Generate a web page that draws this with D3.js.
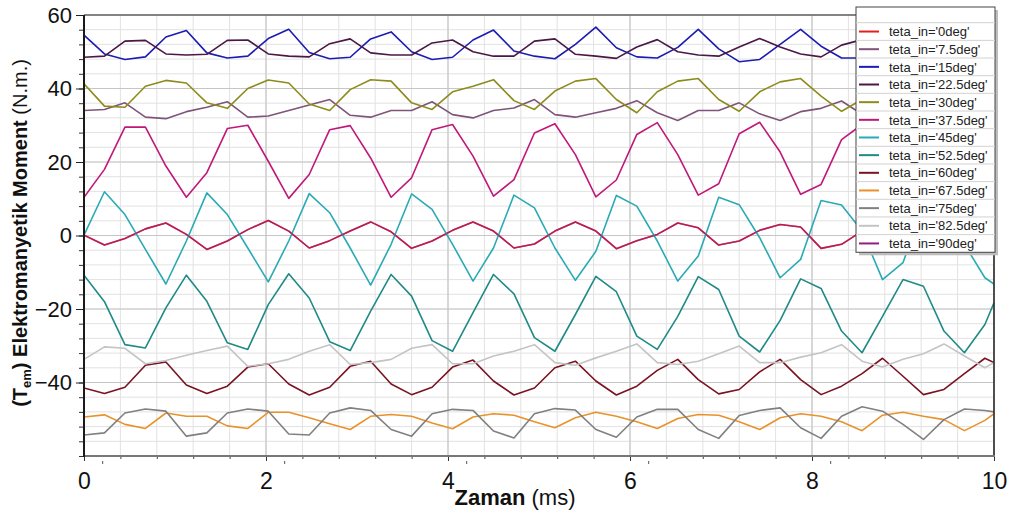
<!DOCTYPE html>
<html>
<head>
<meta charset="utf-8">
<script src="https://cdn.jsdelivr.net/npm/d3@7/dist/d3.min.js"></script>
<style>
  body { margin: 0; background: #fff; }
  svg { display: block; font-family: "Liberation Sans", Arial, sans-serif; }
</style>
</head>
<body>
<script>
//sample times (ms)
var times = [0, 0.225, 0.45, 0.675, 0.9, 1.125, 1.35, 1.575, 1.8, 2.025, 2.25, 2.475, 2.7, 2.925, 3.15, 3.375,
  3.6, 3.825, 4.05, 4.275, 4.5, 4.725, 4.95, 5.175, 5.4, 5.625, 5.85, 6.075, 6.3, 6.525, 6.75, 6.975,
  7.2, 7.425, 7.65, 7.875, 8.1, 8.325, 8.55, 8.775, 9.0, 9.225, 9.45, 9.675, 9.9, 10.0];

//torque values (N.m.) for each input angle
var teta0 = [0.1, -2.6, -0.8, 1.8, 3.4, 0.3, -3.8, -1.5, 1.6, 4.1, 1.2, -3.4, -1.4, 1.2, 3.7, 1.0,
  -3.5, -1.5, 1.4, 3.7, 1.2, -3.4, -2.3, 1.2, 3.7, 1.2, -3.6, -1.4, 0.3, 3.4, 2.1, -2.6,
  -1.5, 1.4, 3.0, 2.3, -3.5, -2.4, 1.2, 3.5, 1.5, -3.5, -2.0, 1.0, 3.5, 2.0];
var teta7_5 = [34.0, 34.3, 36.1, 32.2, 31.8, 33.7, 34.9, 36.4, 32.2, 32.5, 34.0, 35.5, 37.0, 32.7, 32.2, 34.0,
  34.0, 36.4, 32.9, 32.0, 34.0, 34.7, 37.0, 32.9, 32.2, 33.4, 34.6, 36.7, 33.4, 31.3, 34.0, 34.0,
  36.1, 33.1, 31.3, 33.7, 34.6, 36.6, 33.0, 31.5, 34.0, 34.5, 36.5, 33.0, 31.5, 32.0];
var teta15 = [54.5, 49.4, 47.9, 48.6, 54.0, 55.8, 49.7, 48.3, 48.8, 53.6, 56.1, 49.8, 48.1, 48.5, 53.5, 55.4,
  50.0, 47.9, 48.5, 53.2, 55.9, 50.2, 48.8, 48.1, 52.0, 56.7, 51.1, 48.6, 48.3, 51.2, 56.1, 50.8,
  47.3, 47.9, 52.0, 56.1, 51.5, 48.3, 48.3, 51.0, 56.0, 50.5, 48.0, 48.5, 53.0, 55.0];
var teta22_5 = [48.5, 48.8, 52.9, 53.1, 49.4, 49.1, 49.3, 53.1, 53.2, 49.4, 48.8, 48.6, 52.2, 53.5, 49.7, 49.1,
  49.1, 52.4, 53.2, 50.0, 48.8, 48.8, 52.9, 53.5, 49.3, 48.8, 48.2, 51.3, 53.3, 50.0, 49.1, 48.8,
  51.3, 53.6, 51.3, 49.4, 48.6, 51.8, 53.3, 49.5, 49.0, 49.0, 52.0, 53.5, 50.0, 49.5];
var teta30 = [41.3, 35.2, 34.9, 40.6, 42.2, 41.5, 36.1, 34.6, 40.0, 42.3, 41.5, 35.8, 34.0, 39.7, 42.4, 42.0,
  36.1, 34.3, 39.1, 40.6, 42.4, 36.7, 34.3, 39.3, 42.0, 42.7, 37.0, 33.4, 39.1, 42.0, 42.7, 37.0,
  33.8, 39.1, 41.8, 42.7, 37.9, 33.8, 37.0, 42.0, 42.5, 37.0, 34.0, 39.0, 42.0, 42.5];
var teta37_5 = [10.4, 18.0, 29.5, 29.5, 18.9, 10.4, 17.1, 29.1, 30.0, 20.2, 10.1, 16.6, 28.8, 29.9, 21.1, 10.4,
  15.7, 28.8, 30.2, 21.6, 10.7, 15.2, 27.9, 30.4, 22.0, 10.5, 15.1, 27.5, 30.7, 22.0, 11.0, 14.1,
  27.7, 30.8, 22.7, 11.2, 13.9, 26.1, 30.2, 22.0, 11.0, 14.0, 26.0, 30.5, 22.0, 17.0];
var teta45 = [0.1, 11.9, 5.7, -3.8, -13.2, -1.5, 11.6, 5.7, -3.4, -12.6, -1.5, 11.4, 6.2, -3.4, -13.5, -2.4,
  11.3, 7.1, -2.4, -12.4, -3.4, 11.0, 7.5, -3.4, -12.2, -4.3, 10.9, 8.0, -1.5, -12.4, -5.6, 10.4,
  8.4, -0.6, -11.5, -6.5, 9.5, 8.3, 1.2, -12.0, -7.4, 8.4, 8.0, -2.4, -11.5, -13.2];
var teta52_5 = [-10.8, -18.0, -29.7, -30.6, -19.7, -10.8, -17.9, -29.2, -31.0, -18.8, -10.4, -17.0, -28.9, -31.3, -20.6, -10.6,
  -16.5, -28.6, -31.5, -21.0, -10.6, -15.9, -27.8, -31.5, -21.5, -11.1, -15.3, -27.4, -31.0, -22.0, -11.2, -14.7,
  -27.4, -31.7, -23.1, -11.8, -14.4, -26.0, -31.9, -22.0, -12.0, -13.8, -26.0, -31.9, -24.2, -18.3];
var teta60 = [-41.5, -43.0, -41.3, -35.3, -34.4, -40.7, -43.0, -41.0, -35.8, -34.9, -40.4, -43.4, -41.3, -35.6, -34.2, -40.4,
  -43.3, -41.3, -35.8, -33.9, -39.6, -43.4, -41.5, -36.0, -34.2, -39.6, -43.4, -41.0, -36.7, -33.7, -39.2, -43.1,
  -41.9, -37.1, -33.7, -39.2, -43.3, -41.0, -37.6, -33.4, -38.3, -43.3, -41.9, -37.6, -33.4, -34.6];
var teta67_5 = [-49.4, -48.8, -51.4, -52.5, -48.3, -49.2, -49.2, -51.8, -52.5, -48.1, -48.1, -49.6, -51.2, -52.8, -49.2, -48.7,
  -49.2, -51.0, -52.6, -49.4, -48.5, -48.9, -50.7, -52.3, -49.6, -48.1, -49.2, -50.7, -52.5, -49.8, -48.7, -48.9,
  -50.7, -52.8, -49.6, -48.5, -49.2, -50.7, -53.1, -48.9, -48.1, -49.2, -50.1, -53.1, -50.3, -48.5];
var teta75 = [-54.3, -53.7, -48.3, -47.2, -47.8, -54.6, -53.7, -48.3, -47.2, -47.8, -54.0, -54.3, -48.3, -46.9, -47.6, -52.8,
  -54.6, -48.5, -47.3, -47.6, -53.2, -55.1, -48.5, -47.1, -47.5, -52.8, -54.9, -49.4, -47.3, -47.3, -52.8, -55.2,
  -49.0, -47.6, -46.9, -52.3, -55.2, -49.2, -46.6, -47.8, -51.4, -55.5, -50.1, -47.2, -47.6, -48.0];
var teta82_5 = [-33.7, -30.3, -30.7, -34.9, -34.0, -32.6, -31.3, -30.1, -35.6, -34.9, -33.7, -31.5, -29.7, -35.1, -34.6, -33.7,
  -30.7, -29.7, -34.9, -34.9, -32.8, -31.5, -29.7, -34.6, -35.3, -33.3, -31.5, -29.5, -34.6, -35.1, -34.2, -32.2,
  -30.1, -34.6, -34.6, -33.1, -31.9, -29.7, -34.2, -35.8, -33.7, -32.2, -29.5, -32.8, -36.0, -34.6];
var teta90 = [0.1, -2.6, -0.8, 1.8, 3.4, 0.3, -3.8, -1.5, 1.6, 4.1, 1.2, -3.4, -1.4, 1.2, 3.7, 1.0,
  -3.5, -1.5, 1.4, 3.7, 1.2, -3.4, -2.3, 1.2, 3.7, 1.2, -3.6, -1.4, 0.3, 3.4, 2.1, -2.6,
  -1.5, 1.4, 3.0, 2.3, -3.5, -2.4, 1.2, 3.5, 1.5, -3.5, -2.0, 1.0, 3.5, 2.0];

var seriesNames = ["teta_in='0deg'", "teta_in='7.5deg'", "teta_in='15deg'", "teta_in='22.5deg'",
  "teta_in='30deg'", "teta_in='37.5deg'", "teta_in='45deg'", "teta_in='52.5deg'", "teta_in='60deg'",
  "teta_in='67.5deg'", "teta_in='75deg'", "teta_in='82.5deg'", "teta_in='90deg'"];
var seriesValues = [teta0, teta7_5, teta15, teta22_5, teta30, teta37_5, teta45, teta52_5, teta60,
  teta67_5, teta75, teta82_5, teta90];
var seriesColors = ["#e41e1e", "#7f5478", "#1c1cb0", "#4b1746", "#8c8c1c", "#c0187a", "#2aaab4",
  "#1f8a86", "#7a1222", "#e8922a", "#808080", "#c4c4c4", "#941c82"];

var xMajor = [0, 2, 4, 6, 8, 10];
var yMajor = [-40, -20, 0, 20, 40, 60];

window.onload = initialize();

function initialize(){
  setChart();
};

function setChart(){

  //frame dimensions
  var width = 1010;
  var height = 513;
  var left = 84, right = 994, top = 15, bottom = 456;

  var svg = d3.select("body")
              .append("svg")
              .attr("width", width)
              .attr("height", height);

  var x = d3.scaleLinear().domain([0, 10]).range([left, right]);
  var y = d3.scaleLinear().domain([-60, 60]).range([bottom, top]);

  //grid lines, minor every 0.4 ms / 4 N.m., major every 2 ms / 20 N.m.
  var xMinor = d3.range(0, 10.001, 0.4);
  var yMinor = d3.range(-60, 60.001, 4);

  var grid = svg.append("g").attr("class", "grid");
  grid.selectAll(".vminor")
      .data(xMinor)
    .enter().append("line")
      .attr("x1", function(d) { return x(d) }).attr("x2", function(d) { return x(d) })
      .attr("y1", top).attr("y2", bottom)
      .style("stroke", "#e2e2e2").style("stroke-width", 1);
  grid.selectAll(".hminor")
      .data(yMinor)
    .enter().append("line")
      .attr("x1", left).attr("x2", right)
      .attr("y1", function(d) { return y(d) }).attr("y2", function(d) { return y(d) })
      .style("stroke", "#e2e2e2").style("stroke-width", 1);
  grid.selectAll(".vmajor")
      .data(xMajor)
    .enter().append("line")
      .attr("x1", function(d) { return x(d) }).attr("x2", function(d) { return x(d) })
      .attr("y1", top).attr("y2", bottom)
      .style("stroke", "#c6c6c6").style("stroke-width", 1.2);
  grid.selectAll(".hmajor")
      .data(yMajor)
    .enter().append("line")
      .attr("x1", left).attr("x2", right)
      .attr("y1", function(d) { return y(d) }).attr("y2", function(d) { return y(d) })
      .style("stroke", "#c6c6c6").style("stroke-width", 1.2);

  //clip the curves to the plot area
  svg.append("clipPath").attr("id", "plotclip")
     .append("rect")
       .attr("x", left).attr("y", top)
       .attr("width", right - left).attr("height", bottom - top);

  var line = d3.line()
               .x(function(d, i) { return x(times[i]) })
               .y(function(d) { return y(d) });

  var curves = svg.append("g").attr("clip-path", "url(#plotclip)");
  curves.selectAll(".curve")
        .data(seriesValues)
      .enter().append("path")
        .attr("class", "curve")
        .attr("d", line)
        .style("fill", "none")
        .style("stroke", function(d, i) { return seriesColors[i] })
        .style("stroke-width", 1.6)
        .style("stroke-opacity", function(d, i) { return i == 12 ? 0.6 : 1 })
        .style("stroke-linejoin", "round");

  //axes
  var xAxis = d3.axisBottom(x).tickValues(xMinor).tickSize(3).tickFormat("");
  svg.append("g")
     .attr("transform", "translate(0," + bottom + ")")
     .call(xAxis)
     .call(function(g) {
       g.select(".domain").remove();
       g.selectAll("line").style("stroke", "#444");
     });

  svg.append("g")
     .attr("transform", "translate(0," + bottom + ")")
     .call(d3.axisBottom(x).tickValues(xMajor).tickSize(5).tickPadding(6))
     .call(function(g) {
       g.select(".domain").remove();
       g.selectAll("line").style("stroke", "#333");
       g.selectAll("text")
        .style("font-size", "23px")
        .style("fill", "#111")
        .attr("dy", "0.95em");
     });

  //little marks below the time axis
  svg.append("g")
     .attr("transform", "translate(0," + (bottom + 5) + ")")
     .call(d3.axisBottom(x).tickValues([0.2, 2.2, 4.2, 6.2, 8.2]).tickSize(3).tickFormat(""))
     .call(function(g) {
       g.select(".domain").remove();
       g.selectAll("line").style("stroke", "#555");
     });

  svg.append("g")
     .attr("transform", "translate(" + left + ",0)")
     .call(d3.axisLeft(y).tickValues(yMinor).tickSize(5).tickFormat(""))
     .call(function(g) {
       g.select(".domain").remove();
       g.selectAll("line").style("stroke", "#333");
     });

  svg.append("g")
     .attr("transform", "translate(" + left + ",0)")
     .call(d3.axisLeft(y).tickValues(yMajor).tickSize(8).tickPadding(4))
     .call(function(g) {
       g.select(".domain").remove();
       g.selectAll("line").style("stroke", "#222");
       g.selectAll("text")
        .style("font-size", "22px")
        .style("fill", "#111");
     });

  //frame lines
  svg.append("line").attr("x1", left).attr("x2", right).attr("y1", top).attr("y2", top)
     .style("stroke", "#666").style("stroke-width", 1.5);
  svg.append("line").attr("x1", right).attr("x2", right).attr("y1", top).attr("y2", bottom)
     .style("stroke", "#222").style("stroke-width", 1.5);
  svg.append("line").attr("x1", left - 1).attr("x2", right + 1).attr("y1", bottom).attr("y2", bottom)
     .style("stroke", "#777").style("stroke-width", 2);
  svg.append("line").attr("x1", left).attr("x2", left).attr("y1", top).attr("y2", bottom + 1)
     .style("stroke", "#1a1a1a").style("stroke-width", 2);

  //axis titles
  var xTitle = svg.append("text")
                  .attr("x", 515).attr("y", 505)
                  .attr("text-anchor", "middle")
                  .style("font-size", "22px").style("fill", "#111");
  xTitle.append("tspan").style("font-weight", "bold").text("Zaman");
  xTitle.append("tspan").text(" (ms)");

  var yTitle = svg.append("text")
                  .attr("transform", "translate(27,233) rotate(-90)")
                  .attr("text-anchor", "middle")
                  .style("font-size", "20px").style("fill", "#111");
  yTitle.append("tspan").style("font-weight", "bold").text("(T");
  yTitle.append("tspan").style("font-weight", "bold").style("font-size", "13px").attr("dy", 4).text("em");
  yTitle.append("tspan").style("font-weight", "bold").attr("dy", -4).text(") Elektromanyetik Moment");
  yTitle.append("tspan").text(" (N.m.)");

  createLegend(svg);
};

function createLegend(svg) {

  var lx = 856, ly = 7, lw = 139, head = 15.7, rowH = 17.66;
  var lh = head + rowH * seriesNames.length;

  //shadow and box
  svg.append("rect")
     .attr("x", lx + 3).attr("y", ly + 3).attr("width", lw).attr("height", lh)
     .style("fill", "#bdbdbd");
  svg.append("rect")
     .attr("x", lx).attr("y", ly).attr("width", lw).attr("height", lh)
     .style("fill", "#fff").style("stroke", "#444").style("stroke-width", 1);

  var rows = svg.selectAll(".legendrow")
                .data(seriesNames)
              .enter().append("g")
                .attr("class", "legendrow")
                .attr("transform", function(d, i) { return "translate(" + lx + "," + (ly + head + i * rowH) + ")" });

  rows.append("line")
      .attr("x1", 0).attr("x2", lw).attr("y1", 0).attr("y2", 0)
      .style("stroke", "#d2d2d2").style("stroke-width", 1);
  rows.append("line")
      .attr("x1", 3).attr("x2", 23).attr("y1", rowH / 2).attr("y2", rowH / 2)
      .style("stroke", function(d, i) { return seriesColors[i] })
      .style("stroke-width", 2);
  rows.append("text")
      .attr("x", 33).attr("y", rowH / 2)
      .attr("dy", "0.36em")
      .style("font-size", "13px").style("fill", "#222")
      .text(function(d) { return d });
};
</script>
</body>
</html>
